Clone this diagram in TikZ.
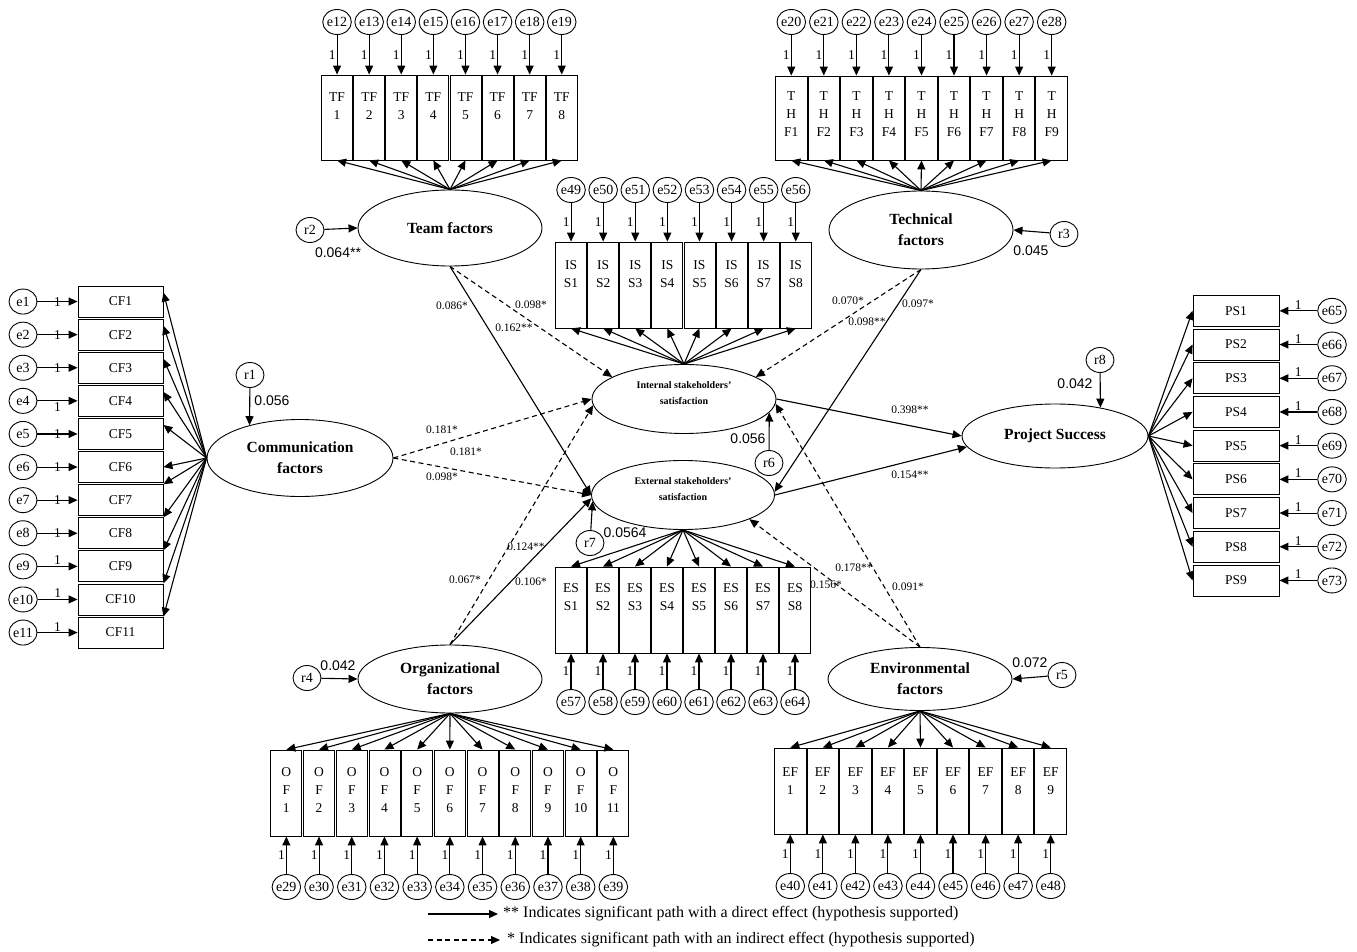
\documentclass[tikz,border=0pt]{standalone}
\usepackage{fontspec}
\setmainfont{Liberation Serif}
\newfontfamily\arialfam{Liberation Sans}
\usetikzlibrary{arrows.meta,shapes.geometric}
\begin{document}
\begin{tikzpicture}[x=1pt,y=-1pt,
 arr/.style={-{Triangle[length=9pt,width=8pt]}, line width=1.1pt},
 darr/.style={arr, dash pattern=on 5pt off 3.5pt},
 vbox/.style={draw, line width=0.9pt, minimum width=31pt, minimum height=85pt, inner sep=0pt},
 hbox/.style={draw, line width=0.9pt, minimum width=85pt, minimum height=31pt, inner sep=0pt, font=\fontsize{13.5}{16}\selectfont},
 errc/.style={draw, ellipse, line width=0.9pt, minimum width=28pt, minimum height=25pt, inner sep=0pt, font=\fontsize{14}{15}\selectfont},
 lat/.style={draw, ellipse, line width=0.9pt, minimum width=184pt, inner sep=0pt, align=center, font=\bfseries\fontsize{15.5}{21}\selectfont},
 slat/.style={draw, ellipse, line width=0.9pt, minimum width=184pt, minimum height=69pt, inner sep=0pt},
 stxt/.style={align=center, inner sep=0pt, font=\bfseries\fontsize{10}{16}\selectfont},
 btxt/.style={align=center, inner sep=0pt, anchor=north, font=\fontsize{13.5}{18}\selectfont},
 one/.style={font=\fontsize{13.5}{14}\selectfont, inner sep=1pt},
 plbl/.style={font=\fontsize{11.5}{12}\selectfont, inner sep=0pt},
 rval/.style={font=\arialfam\fontsize{14}{15}\selectfont, inner sep=0pt},
 legtxt/.style={font=\fontsize{16}{18}\selectfont, inner sep=0pt, anchor=west},
]
\useasboundingbox (0,0) rectangle (1357,952);

% latent variables
\node[lat, minimum height=76pt] (team) at (450,228) {Team factors};
\node[lat, minimum height=78pt] (tech) at (921,230) {Technical\\factors};
\node[lat, minimum width=186pt, minimum height=77pt] (comm) at (300,458) {Communication\\factors};
\node[lat, minimum height=68pt] (org) at (450,679) {Organizational\\factors};
\node[lat, minimum height=63pt] (env) at (920,679) {Environmental\\factors};
\node[lat, minimum width=186pt, minimum height=64pt] (ps) at (1055,436) {Project Success};
\node[slat] (int) at (684,399) {};
\node[stxt] (intl) at (684,393) {Internal stakeholders’\\satisfaction};
\node[slat, minimum width=183pt] (ext) at (683,495) {};
\node[stxt] (extl) at (683,489) {External stakeholders’\\satisfaction};

% residuals
\node[errc] (r1) at (250,375) {r1};
\node[errc] (r2) at (310,230) {r2};
\node[errc] (r3) at (1064,234) {r3};
\node[errc] (r4) at (307,678) {r4};
\node[errc] (r5) at (1062,675) {r5};
\node[errc] (r6) at (769,463) {r6};
\node[errc] (r7) at (590,543) {r7};
\node[errc] (r8) at (1100,360) {r8};
\draw[arr] (r1) -- (comm.147);
\draw[arr] (r2) -- (team.west);
\draw[arr] (r3) -- (tech.east);
\draw[arr] (r4) -- (org.west);
\draw[arr] (r5) -- (env.east);
\draw[arr] (r6) -- (int.-9);
\draw[arr] (r7) -- (ext.184);
\draw[arr] (r8) -- (ps.32);
\node[rval] (v1) at (272,401) {0.056};
\node[rval] (v2) at (338,253) {0.064**};
\node[rval] (v3) at (1031,251) {0.045};
\node[rval] (v4) at (338,666) {0.042};
\node[rval] (v5) at (1030,663) {0.072};
\node[rval] (v6) at (748,439) {0.056};
\node[rval] (v7) at (625,533) {0.0564};
\node[rval] (v8) at (1075,384) {0.042};

% TF block
\foreach \i [evaluate=\i as \xx using 321+32.1*(\i-0.5), evaluate=\i as \ee using int(\i+11)] in {1,...,8}{
 \node[vbox] (tf\i) at (\xx,117.5) {};
 \node[btxt] (tft\i) at ([yshift=-18pt]tf\i.north) {TF\\\i};
 \node[errc] (e\ee) at (\xx,22) {e\ee};
 \draw[arr] (e\ee) -- (tf\i.north) node[one, midway, left] {1};
 \draw[arr] (team.north) -- (tf\i.south);
}
% THF block
\foreach \i [evaluate=\i as \xx using 775+32.55*(\i-0.5), evaluate=\i as \ee using int(\i+19)] in {1,...,9}{
 \node[vbox, minimum height=84pt, minimum width=31.5pt] (thf\i) at (\xx,118) {};
 \node[btxt] (thft\i) at ([yshift=-16pt]thf\i.north) {T\\H\\F\i};
 \node[errc] (e\ee) at (\xx,22) {e\ee};
 \draw[arr] (e\ee) -- (thf\i.north) node[one, midway, left] {1};
 \draw[arr] (tech.north) -- (thf\i.south);
}
% ISS block
\foreach \i [evaluate=\i as \xx using 555+32.1*(\i-0.5), evaluate=\i as \ee using int(\i+48)] in {1,...,8}{
 \node[vbox, minimum height=86pt] (iss\i) at (\xx,285) {};
 \node[btxt] (isst\i) at ([yshift=-19pt]iss\i.north) {IS\\S\i};
 \node[errc] (e\ee) at (\xx,190) {e\ee};
 \draw[arr] (e\ee) -- (iss\i.north) node[one, midway, left] {1};
 \draw[arr] (int.north) -- (iss\i.south);
}
% ESS block
\foreach \i [evaluate=\i as \xx using 555+32*(\i-0.5), evaluate=\i as \ee using int(\i+56)] in {1,...,8}{
 \node[vbox, minimum height=86pt] (ess\i) at (\xx,610) {};
 \node[btxt] (esst\i) at ([yshift=-17pt]ess\i.north) {ES\\S\i};
 \node[errc] (e\ee) at (\xx,702) {e\ee};
 \draw[arr] (e\ee) -- (ess\i.south) node[one, midway, left] {1};
 \draw[arr] (ext.south) -- (ess\i.north);
}
% OF block
\foreach \i [evaluate=\i as \xx using 270+32.7*(\i-0.5), evaluate=\i as \ee using int(\i+28)] in {1,...,11}{
 \node[vbox, minimum height=86pt] (of\i) at (\xx,793) {};
 \node[btxt] (oft\i) at ([yshift=-18pt]of\i.north) {O\\F\\\i};
 \node[errc] (e\ee) at (\xx,887) {e\ee};
 \draw[arr] (e\ee) -- (of\i.south) node[one, midway, left] {1};
 \draw[arr] (org.south) -- (of\i.north);
}
% EF block
\foreach \i [evaluate=\i as \xx using 774+32.55*(\i-0.5), evaluate=\i as \ee using int(\i+39)] in {1,...,9}{
 \node[vbox, minimum height=86pt, minimum width=31.5pt] (ef\i) at (\xx,791) {};
 \node[btxt] (eft\i) at ([yshift=-20pt]ef\i.north) {EF\\\i};
 \node[errc] (e\ee) at (\xx,886) {e\ee};
 \draw[arr] (e\ee) -- (ef\i.south) node[one, midway, left] {1};
 \draw[arr] (env.south) -- (ef\i.north);
}
% CF block
\foreach \i in {1,...,11}{
 \pgfmathsetmacro\yy{285+33.1*(\i-0.5)}
 \node[hbox] (cf\i) at (120.5,\yy) {CF\i};
 \node[errc] (e\i) at (23,\yy) {e\i};
 \ifnum\i>8
  \draw[arr] (e\i) -- (cf\i.west) node[one, midway, above] {1};
 \else\ifnum\i=4
  \draw[arr] (e\i) -- (cf\i.west) node[one, midway, below] {1};
 \else
  \draw[arr] (e\i) -- (cf\i.west) node[one, midway] {1};
 \fi\fi
 \ifnum\i<6
  \draw[arr] (comm.west) -- ([yshift=-7pt]cf\i.north east);
 \else\ifnum\i=6
  \draw[arr] (comm.west) -- (cf\i.east);
 \else
  \draw[arr] (comm.west) -- (cf\i.north east);
 \fi\fi
}
% PS block
\foreach \i [evaluate=\i as \ee using int(\i+64)] in {1,...,9}{
 \pgfmathsetmacro\yy{294+33.7*(\i-0.5)}
 \node[hbox, minimum width=86pt] (ps\i) at (1236,\yy) {PS\i};
 \node[errc] (e\ee) at (1332,\yy) {e\ee};
 \draw[arr] (e\ee) -- (ps\i.east) node[one, midway, above] {1};
 \draw[arr] (ps.east) -- (ps\i.west);
}

% structural paths
\draw[arr] (team.south) -- (ext.west);
\draw[darr] (team.south) -- (int.163);
\draw[arr] (tech.south) -- (ext.2);
\draw[darr] (tech.south) -- (int.17);
\draw[darr] (comm.east) -- (int.west);
\draw[darr] (comm.east) -- (ext.west);
\draw[arr] (org.north) -- (ext.182);
\draw[darr] (org.north) -- (int.184);
\draw[darr] (env.north) -- (int.-3);
\draw[darr] (env.north) -- (ext.340);
\draw[arr] (int.east) -- (ps.west);
\draw[arr] (ext.east) -- (ps.187);

% path labels
\node[plbl] (p1) at (452,306) {0.086*};
\node[plbl] (p2) at (531,305) {0.098*};
\node[plbl] (p3) at (514,328) {0.162**};
\node[plbl] (p4) at (848,301) {0.070*};
\node[plbl] (p5) at (867,322) {0.098**};
\node[plbl] (p6) at (918,304) {0.097*};
\node[plbl] (p7) at (442,430) {0.181*};
\node[plbl] (p8) at (466,452) {0.181*};
\node[plbl] (p9) at (442,477) {0.098*};
\node[plbl] (p10) at (910,410) {0.398**};
\node[plbl] (p11) at (910,475) {0.154**};
\node[plbl] (p12) at (526,547) {0.124**};
\node[plbl] (p13) at (465,580) {0.067*};
\node[plbl] (p14) at (531,582) {0.106*};
\node[plbl] (p15) at (854,568) {0.178**};
\node[plbl] (p16) at (826,585) {0.156*};
\node[plbl] (p17) at (908,587) {0.091*};

% legend
\coordinate (l1s) at (428,914);
\coordinate (l2s) at (428,940);
\node[legtxt] (l1t) at (503,914) {** Indicates significant path with a direct effect (hypothesis supported)};
\node[legtxt] (l2t) at (507,940) {* Indicates significant path with an indirect effect (hypothesis supported)};
\draw[arr] (l1s) -- ([xshift=-5pt]l1t.west);
\draw[darr] (l2s) -- ([xshift=-7pt]l2t.west);
\end{tikzpicture}
\end{document}
